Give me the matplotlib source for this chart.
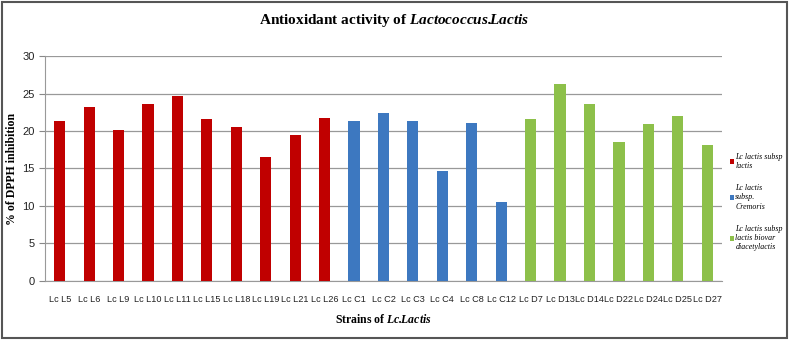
import numpy as np
import matplotlib
matplotlib.use("Agg")
import matplotlib.pyplot as plt
from matplotlib.patches import Rectangle

plt.rcParams["mathtext.fontset"] = "custom"
plt.rcParams["mathtext.rm"] = "Liberation Serif"
plt.rcParams["mathtext.it"] = "Liberation Serif:italic"
plt.rcParams["mathtext.bf"] = "Liberation Serif:bold"
plt.rcParams["mathtext.bfit"] = "Liberation Serif:italic:bold"

# ---------- DATA ----------
lactis_strains = ["Lc L5", "Lc L6", "Lc L9", "Lc L10", "Lc L11", "Lc L15",
                  "Lc L18", "Lc L19", "Lc L21", "Lc L26"]
lactis_values = [21.3, 23.2, 20.1, 23.6, 24.7, 21.6, 20.5, 16.5, 19.5, 21.7]

cremoris_strains = ["Lc C1", "Lc C2", "Lc C3", "Lc C4", "Lc C8", "Lc C12"]
cremoris_values = [21.3, 22.4, 21.4, 14.7, 21.1, 10.5]

diacetyl_strains = ["Lc D7", "Lc D13", "Lc D14", "Lc D22", "Lc D24", "Lc D25", "Lc D27"]
diacetyl_values = [21.6, 26.3, 23.6, 18.5, 21.0, 22.0, 18.1]

groups = [
    (lactis_strains, lactis_values, "#C00000", "Lc lactis subsp\nlactis"),
    (cremoris_strains, cremoris_values, "#3D78C0", "Lc lactis\nsubsp.\nCremoris"),
    (diacetyl_strains, diacetyl_values, "#8DC04A", "Lc lactis subsp\nlactis biovar\ndiacetylactis"),
]

# ---------- PLOT ----------
fig = plt.figure(figsize=(7.89, 3.40), dpi=100)
ax = fig.add_axes([0.057, 0.174, 0.858, 0.661])

all_labels = []
start = 0
for strains, values, color, label in groups:
    x = np.arange(start, start + len(strains))
    ax.bar(x, values, width=0.38, color=color, label=label, zorder=3)
    all_labels += strains
    start += len(strains)

ax.set_xlim(-0.5, len(all_labels) - 0.5)
ax.set_ylim(0, 30)
ax.set_yticks(range(0, 31, 5))
ax.set_xticks(range(len(all_labels)))
ax.set_xticklabels(all_labels, fontsize=6.6, family="Liberation Sans")
ax.tick_params(axis="x", length=0, pad=10, labelcolor="#222222")
ax.tick_params(axis="y", length=4, color="#888888", labelsize=8, labelcolor="#222222")
for t in ax.get_yticklabels():
    t.set_family("Liberation Sans")

ax.grid(axis="y", color="#999999", linewidth=0.9, zorder=0)
for side in ["top", "right"]:
    ax.spines[side].set_visible(False)
ax.spines["left"].set_color("#999999")
ax.spines["bottom"].set_color("#999999")

ax.set_ylabel("% of DPPH inhibition", family="Liberation Serif",
              fontweight="bold", fontsize=8.5, labelpad=3)
ax.set_xlabel(r"Strains of $\mathbfit{Lc.\!\!Lactis}$", family="Liberation Serif",
              fontweight="bold", fontsize=8.5, labelpad=7)
fig.suptitle(r"Antioxidant activity of $\mathbfit{Lactococcus.\!\!Lactis}$",
             family="Liberation Serif", fontweight="bold", fontsize=11, y=0.965)

ax.legend(loc="upper left", bbox_to_anchor=(0.921, 0.56), bbox_transform=fig.transFigure,
          frameon=False, handlelength=0.55, handleheight=0.55, handletextpad=0.15,
          labelspacing=1.8, borderaxespad=0,
          prop={"family": "Liberation Serif", "style": "italic", "size": 5.7})

# outer frame
fig.patches.append(Rectangle((0.003, 0.005), 0.994, 0.99, transform=fig.transFigure,
                             fill=False, edgecolor="#555555", linewidth=1.5))

fig.savefig("out.png", dpi=100)
